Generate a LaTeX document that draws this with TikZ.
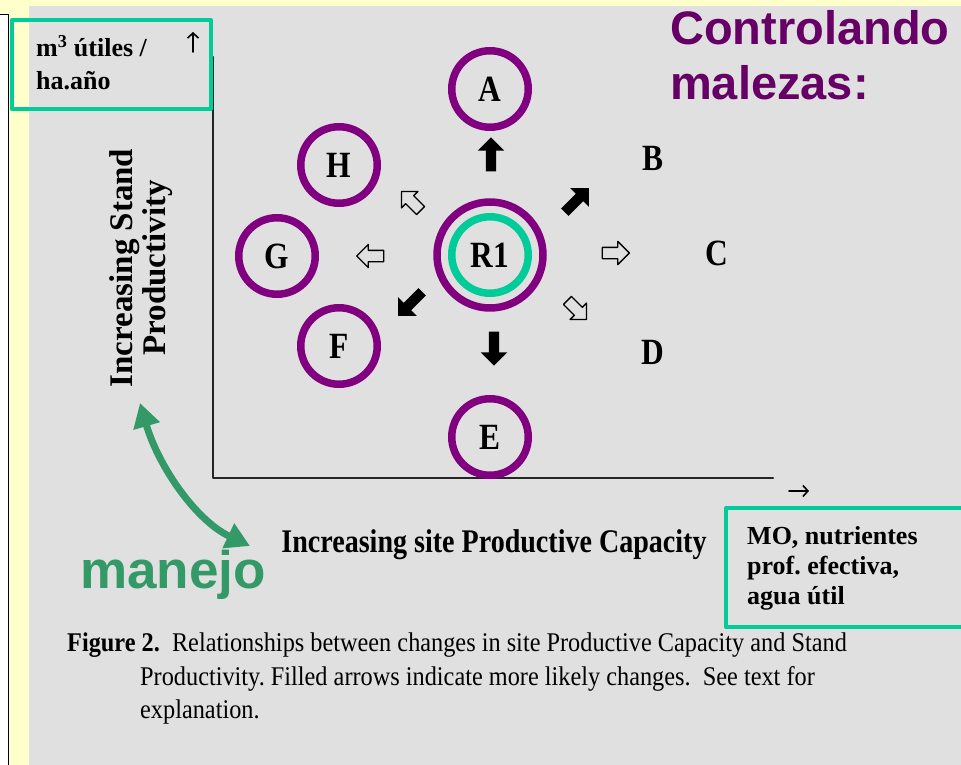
\documentclass[tikz,border=0pt]{standalone}
\usepackage{fontspec}
\setmainfont{Liberation Serif}
\newfontfamily\scanfont[FakeStretch=0.85]{Liberation Serif}
\newfontfamily\capfont[FakeStretch=0.9]{Liberation Serif}
\newfontfamily\slidefont{Liberation Sans}
\usetikzlibrary{shapes.arrows,arrows.meta,positioning}

\definecolor{slideyellow}{HTML}{FFFFCC}
\definecolor{scangray}{HTML}{E0E0E0}
\definecolor{boxteal}{HTML}{00CC99}
\definecolor{ringpurple}{HTML}{800080}
\definecolor{titlepurple}{HTML}{660066}
\definecolor{manejogreen}{HTML}{339966}

\tikzset{
  axis/.style={line width=2.4pt, black!85},
  axistip/.style={line width=1.6pt, -{Straight Barb[length=5pt,width=11pt]}},
  ring/.style={circle, draw=ringpurple, line width=7.5pt, minimum size=76.5pt, inner sep=0pt,
    font=\scanfont\bfseries\fontsize{37}{40}\selectfont},
  letter/.style={font=\scanfont\bfseries\fontsize{37}{40}\selectfont},
  fullarrow/.style={single arrow, fill=black, inner xsep=0pt, inner ysep=5pt,
    minimum height=34pt, single arrow head extend=8pt},
  openarrow/.style={single arrow, draw=black, line width=1.3pt, inner xsep=0pt, inner ysep=5pt,
    minimum height=27pt, single arrow head extend=6pt},
  tealbox/.style={draw=boxteal, line width=4pt, inner sep=0pt},
  boxtext/.style={anchor=base west, inner sep=0pt, font=\bfseries\fontsize{26}{30}\selectfont},
  captext/.style={anchor=base west, inner sep=0pt, font=\capfont\fontsize{27}{30}\selectfont},
  title/.style={anchor=base west, inner sep=0pt, text=titlepurple, font=\slidefont\bfseries\fontsize{47}{55}\selectfont},
}

\begin{document}
\begin{tikzpicture}[x=1pt, y=-1pt, line join=round, line cap=round]
  \useasboundingbox (0,0) rectangle (961,765);

  % slide and scanned page
  \fill[slideyellow] (0,0) rectangle (961,765);
  \fill[scangray] (29,6) rectangle (961,765);
  \fill[white] (0,15) rectangle (8,765);
  \draw[line width=1pt] (0,15) -- (8,15) -- (8,765);

  % axes
  \coordinate (Y) at (213,57);
  \coordinate (O) at (213,478);
  \coordinate (X) at (773,478);
  \draw[axis] (Y) -- (O) -- (X);
  \coordinate (upfoot) at (193,52);
  \coordinate (uphead) at (193,32);
  \coordinate (rtfoot) at (789,491);
  \coordinate (rthead) at (809,491);
  \draw[axistip] (upfoot) -- (uphead);
  \draw[axistip] (rtfoot) -- (rthead);

  % direction arrows round R1
  \node[fullarrow, rotate=90] (toA) at (491,157) {};
  \node[fullarrow, rotate=45] (toB) at (575,202) {};
  \node[openarrow] (toC) at (613,253) {};
  \node[openarrow, rotate=-45] (toD) at (575,308) {};
  \node[fullarrow, rotate=-90] (toE) at (494,346) {};
  \node[fullarrow, rotate=-135] (toF) at (412,302) {};
  \node[openarrow, rotate=180] (toG) at (373,256) {};
  \node[openarrow, rotate=135] (toH) at (413,203) {};

  % states
  \node[ring] (A) at (490,89) {A};
  \node[letter] (B) at (653,158) {B};
  \node[letter] (C) at (717,253) {C};
  \node[letter] (D) at (653,352) {D};
  \node[ring] (E) at (490,437) {E};
  \node[ring] (F) at (339,346) {F};
  \node[ring] (G) at (277,256) {G};
  \node[ring] (H) at (339,165) {H};
  \node[ring, minimum size=106pt] (R1ring) at (490,255) {};
  \node[ring, draw=boxteal, minimum size=76.5pt] (R1) at (490,255) {R1};

  % axis titles
  \node[rotate=90, align=center, inner sep=0pt, font=\bfseries\fontsize{33}{33}\selectfont]
    (ylabel) at (141,268) {Increasing Stand\\Productivity};
  \node[anchor=base, inner sep=0pt, font=\scanfont\bfseries\fontsize{33}{35}\selectfont]
    (xlabel) at (494,552) {Increasing site Productive Capacity};

  % caption
  \node[captext] (cap1) at (67,651) {\textbf{Figure 2.}\ \ Relationships between changes in site Productive Capacity and Stand};
  \node[captext] (cap2) at (140,685) {Productivity.\ Filled arrows indicate more likely changes.\ \ See text for};
  \node[captext] (cap3) at (140,718) {explanation.};

  % slide annotations
  \node[tealbox, minimum width=199pt, minimum height=89pt] (unitbox) at (111.5,64.5) {};
  \node[boxtext] (unit1) at (36,57) {m\textsuperscript{3} útiles /};
  \node[boxtext] (unit2) at (36,90) {ha.año};

  \node[tealbox, anchor=north west, minimum width=260pt, minimum height=119pt] (soilbox) at (724,506) {};
  \node[boxtext] (soil1) at (747,544) {MO, nutrientes};
  \node[boxtext] (soil2) at (747,574) {prof.\ efectiva,};
  \node[boxtext] (soil3) at (747,604) {agua útil};

  \node[title] (title1) at (670,45) {Controlando};
  \node[title] (title2) at (670,100) {malezas:};

  \node[anchor=base west, inner sep=0pt, text=manejogreen, font=\slidefont\bfseries\fontsize{53}{60}\selectfont]
    (manejo) at (80,588) {manejo};
  \coordinate (mtop) at (140,403);
  \coordinate (mbot) at (250,546);
  \draw[manejogreen, line width=7pt, line cap=butt,
        {Triangle[length=24pt,width=26pt]}-{Triangle[length=24pt,width=26pt]}]
    (mtop) .. controls (158,465) and (195,520) .. (mbot);
\end{tikzpicture}
\end{document}
